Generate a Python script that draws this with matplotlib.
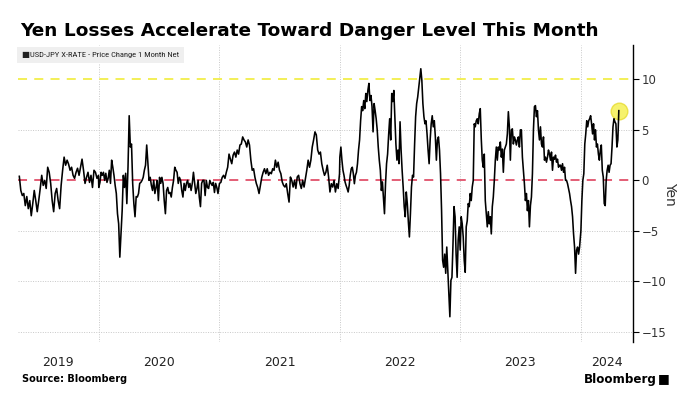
import matplotlib
matplotlib.use("Agg")
import matplotlib.pyplot as plt
import pandas as pd

# USD-JPY 1 month net change (yen), one list per calendar year
vals_2019 = [0.4, -1.0, -1.5, -1.3, -2.5, -1.6, -2.8, -2.0, -3.5, -2.3, -1.0, -2.0, -3.1, -2.0,
             -0.8, 0.5, -0.5, 0.0, -0.8, 1.3, 0.8, -0.3, -2.0, -3.1, -1.3, -0.8, -2.0, -2.8,
             -0.5, 1.0, 2.3, 1.5, 2.0, 1.6, 1.0, 1.3, 0.5, 0.2, 0.8, 1.2, 0.5, 1.3, 2.1, 1.0,
             -0.3, 0.3, 0.8, -0.2, 0.5, -0.7, 1.0, 0.8, 0.2, 0.5]
vals_2020 = [-0.7, -0.2, 0.8, 0.5, 0.8, 0.0, 0.7, -0.2, 0.2, 1.0, -0.3, 2.0, 1.3, 0.5, -0.5,
             -1.3, -3.3, -4.3, -7.6, -5.3, -3.0, 0.5, -0.7, 0.7, -2.3, 1.3, 6.4, 3.3, 3.6,
             -0.3, -2.3, -3.6, -1.6,
             -1.65, -1.3, -0.3, -0.2, 0.0, 0.3, 1.0, 1.5, 3.5, 1.8, 0.0, 0.3, -0.5, -1.0, 0.0,
             -1.3, -0.7, 0.0, -2.0, 0.3, -0.3, 0.3, -0.3, -2.0, -3.3, -1.0, -0.7, -1.3, -1.2,
             -1.65, -0.7, 0.0, 1.3, 1.0, 0.8, -0.3, 0.3, 0.0, -1.0, -1.65, -0.3, -1.0, -0.3,
             0.0, -0.7, -0.3, -1.0, -0.3, 0.8, -0.3, -1.3, -0.8, 0.0, -1.65, -2.6, -0.3, 0.0,
             0.0, -1.5, 0.0, -0.7, -0.8, 0.0, -0.3, -0.5, -0.2, -1.2, -0.3, -0.7, -1.3, -0.5]
vals_2021 = [-0.3, -0.2, 0.3, 0.5, 0.2, 0.8, 1.3, 2.6, 2.1, 1.65, 2.5, 2.8, 2.3, 3.0, 2.6, 3.5,
             3.6, 4.3, 4.0, 3.8, 3.3, 4.0, 3.5, 2.0, 1.0, 1.15, 0.3, -0.3, -0.7, -1.3,
             -0.5, 0.3, 0.8, 1.15, 0.66, 1.15, 0.5, 0.8, 0.66, 1.15, 1.0, 2.0, 1.3, 1.8, 1.0,
             0.66, -0.15, -0.5, -0.66, -0.33, -1.3, -2.15, 0.33, 0.0, -0.66, 0.0, -0.8, 0.33,
             0.5, -0.33, -0.8, 0.0, -0.66, 0.15, 1.0, 2.0, 1.3, 2.0, 3.3, 4.0, 4.8, 4.5, 3.0,
             2.6, 2.8, 1.65, 1.0, 0.5, 0.8, 1.5, 0.33, -1.15, -0.33, -0.66, 0.0, -1.15, -0.33,
             -0.8, 0.66]
vals_2022 = [2.3, 3.3, 2.0, 1.0, 0.5, -0.15, -0.5, -0.8, -1.15, -0.5, 0.5, 1.15, 1.3, 0.66,
             -0.33, 0.5, 0.8, 1.65, 3.0, 4.0, 5.9, 7.3, 6.9, 7.9, 7.1, 8.6, 7.8, 8.9, 9.6,
             7.9, 8.4, 7.3, 4.8, 7.6, 6.9, 6.1, 5.0, 3.3, 2.0, 1.0, -1.0, -0.15, -1.65, -3.3,
             -0.33, 1.65, 2.6, 4.5, 6.1, 4.0, 8.6, 7.8, 8.9, 6.3, 3.6, 2.0, 3.0, 1.65, 5.8,
             3.0, 1.0, -0.66, -2.6, -3.6, -1.15, -2.3, -4.1, -5.6, -3.3, -0.66, 0.5, 0.33,
             3.5, 6.3, 7.6, 8.25, 9.2, 10.1, 11.05, 9.9, 7.6, 6.3, 5.6, 5.9, 4.6, 3.0, 1.65,
             4.0, 5.6, 6.4, 5.3, 5.9, 4.3, 2.0, 4.0, 4.3, 3.0, 0.66, -3.0, -7.9, -8.6, -7.3,
             -9.2, -6.6, -8.9, -11.2, -13.5, -9.9, -9.6, -6.3, -2.6, -3.6, -7.3, -9.6, -5.9,
             -4.6]
vals_2023 = [-6.9, -3.6, -4.3, -5.6, -7.9, -9.1, -4.6, -4.0, -2.3, -2.6, -1.3, -2.0, -0.66,
             0.0, 5.6, 5.3, 5.9, 6.1, 5.6, 6.6, 7.1, 4.1, 2.0, 1.3, 2.6, -2.0, -3.3, -4.6,
             -3.1, -4.3, -3.6, -5.3, -2.6, -1.65, 0.0, 2.0,
             3.3, 2.0, 3.3, 3.0, 3.8, 2.3, 3.1, 0.8, 3.0, 3.3, 3.6, 4.6, 6.8, 5.3, 2.0, 5.0,
             5.1, 3.6, 4.3, 4.0, 3.5, 4.0, 4.3, 3.3, 5.0, 5.0, 2.3, 1.0, -0.33, -2.0, -1.3,
             -3.0, -2.0, -4.6, -2.5, -1.65, 0.66, 5.0, 7.3, 7.4, 6.3, 6.9, 5.0, 4.0, 5.3, 3.6,
             3.3, 4.3, 2.0, 2.3, 1.8, 2.3, 3.0, 2.6, 2.0, 2.8, 1.0, 2.3, 2.1, 2.5, 1.8, 2.1,
             1.3, 1.5, 1.5, 1.0, 1.65, 0.8, 1.3, 0.0, 0.0, -0.33, -0.8, -1.3, -2.0, -2.6,
             -3.6, -5.3, -6.6, -9.2, -6.9, -6.6, -7.3, -6.6]
vals_2024 = [-5.0, -2.0, 0.0, 0.66, 3.6, 4.6, 5.9, 5.3, 5.9, 6.1, 6.4, 5.6, 4.6, 5.6, 4.0,
             5.0, 3.3, 3.6, 2.6, 2.0, 3.0, 3.5, 1.0, 0.33, -2.3, -2.5, 0.0, 1.0, 1.5, 0.8,
             1.5, 1.65, 3.3, 5.3, 6.1, 5.8, 5.6, 3.3, 4.0, 6.9]

seg_start = ["2019-05-05", "2020-01-01", "2021-01-01", "2022-01-01", "2023-01-01", "2024-01-02"]
seg_end = ["2019-12-31", "2020-12-31", "2021-12-31", "2022-12-29", "2023-12-29", "2024-04-26"]
segments = [vals_2019, vals_2020, vals_2021, vals_2022, vals_2023, vals_2024]

year_labels = ["2019", "2020", "2021", "2022", "2023", "2024"]
danger_level = 10
y_ticks = [-15, -10, -5, 0, 5, 10]

dates = []
values = []
for s, e, v in zip(seg_start, seg_end, segments):
    dates.extend(pd.date_range(s, e, periods=len(v)))
    values.extend(v)
series = pd.Series(values, index=pd.DatetimeIndex(dates))

fig = plt.figure(figsize=(6.9, 3.96), dpi=100)
W, H = 690, 396
ax = fig.add_axes([18 / W, 1 - 342 / H, (633 - 18) / W, (342 - 45) / H])

x0 = pd.Timestamp("2019-05-01")
x1 = pd.Timestamp("2024-06-08")
ax.set_xlim(x0, x1)
ax.set_ylim(-16.0, 13.4)

# grid
for yv in [-15, -10, -5, 5]:
    ax.axhline(yv, color="#c8c8c8", linestyle=(0, (1, 1.5)), linewidth=0.7, zorder=0)
for yr in range(2020, 2025):
    ax.axvline(pd.Timestamp(f"{yr}-01-01"), color="#c8c8c8", linestyle=(0, (1, 1.5)),
               linewidth=0.7, zorder=0)

ax.axhline(danger_level, color="#f2ee4a", linestyle=(0, (5, 4)), linewidth=1.3, zorder=1)
ax.axhline(0, color="#e0506a", linestyle=(0, (5, 4)), linewidth=1.3, zorder=1)

ax.plot(series.index, series.values, color="black", linewidth=1.15, zorder=3)
ax.plot(series.index[-1], series.values[-1], "o", markersize=12,
        markerfacecolor="#f4ee3c", markeredgecolor="#e6da2a", alpha=0.75, zorder=2)

# axes styling
for side in ["left", "top", "bottom"]:
    ax.spines[side].set_visible(False)
ax.spines["right"].set_color("black")
ax.spines["right"].set_linewidth(1.0)
ax.yaxis.tick_right()
ax.yaxis.set_label_position("right")
ax.set_yticks(y_ticks)
ax.tick_params(axis="y", length=4, width=0.8, colors="black", labelsize=8.5,
               labelcolor="#333333", pad=2)
ax.set_ylabel("Yen", rotation=270, fontsize=10, color="#333333", labelpad=8)

# year labels centred on the visible part of each year
lab_pos = []
for y in year_labels:
    a = max(pd.Timestamp(f"{y}-01-01"), x0)
    b = min(pd.Timestamp(f"{int(y) + 1}-01-01"), x1)
    lab_pos.append(a + (b - a) / 2)
ax.set_xticks(lab_pos)
ax.set_xticklabels(year_labels)
ax.tick_params(axis="x", length=0, labelsize=9, labelcolor="#222222", pad=10)

# title, legend chip, source
fig.text(20 / W, 1 - 36 / H, "Yen Losses Accelerate Toward Danger Level This Month",
         fontsize=13.3, fontweight="bold", color="black", va="baseline")
fig.text(22 / W, 1 - 55 / H, "\u25a0USD-JPY X-RATE - Price Change 1 Month Net",
         fontsize=6.1, family=["Liberation Sans Narrow", "DejaVu Sans Condensed", "Roboto Condensed",
                               "Roboto", "DejaVu Sans"],
         color="#222222", va="center",
         bbox=dict(boxstyle="square,pad=0.6", facecolor="#efefef", edgecolor="none"))
fig.text(22 / W, 1 - 379 / H, "Source: Bloomberg", fontsize=7, fontweight="bold",
         color="black", va="center")
fig.text(657 / W, 1 - 379 / H, "Bloomberg", fontsize=8.6, fontweight="bold",
         color="black", va="center", ha="right")
fig.text(670 / W, 1 - 379 / H, "\u25a0", fontsize=9, color="black", va="center", ha="right")

fig.savefig("out.png", dpi=100, facecolor="white")
